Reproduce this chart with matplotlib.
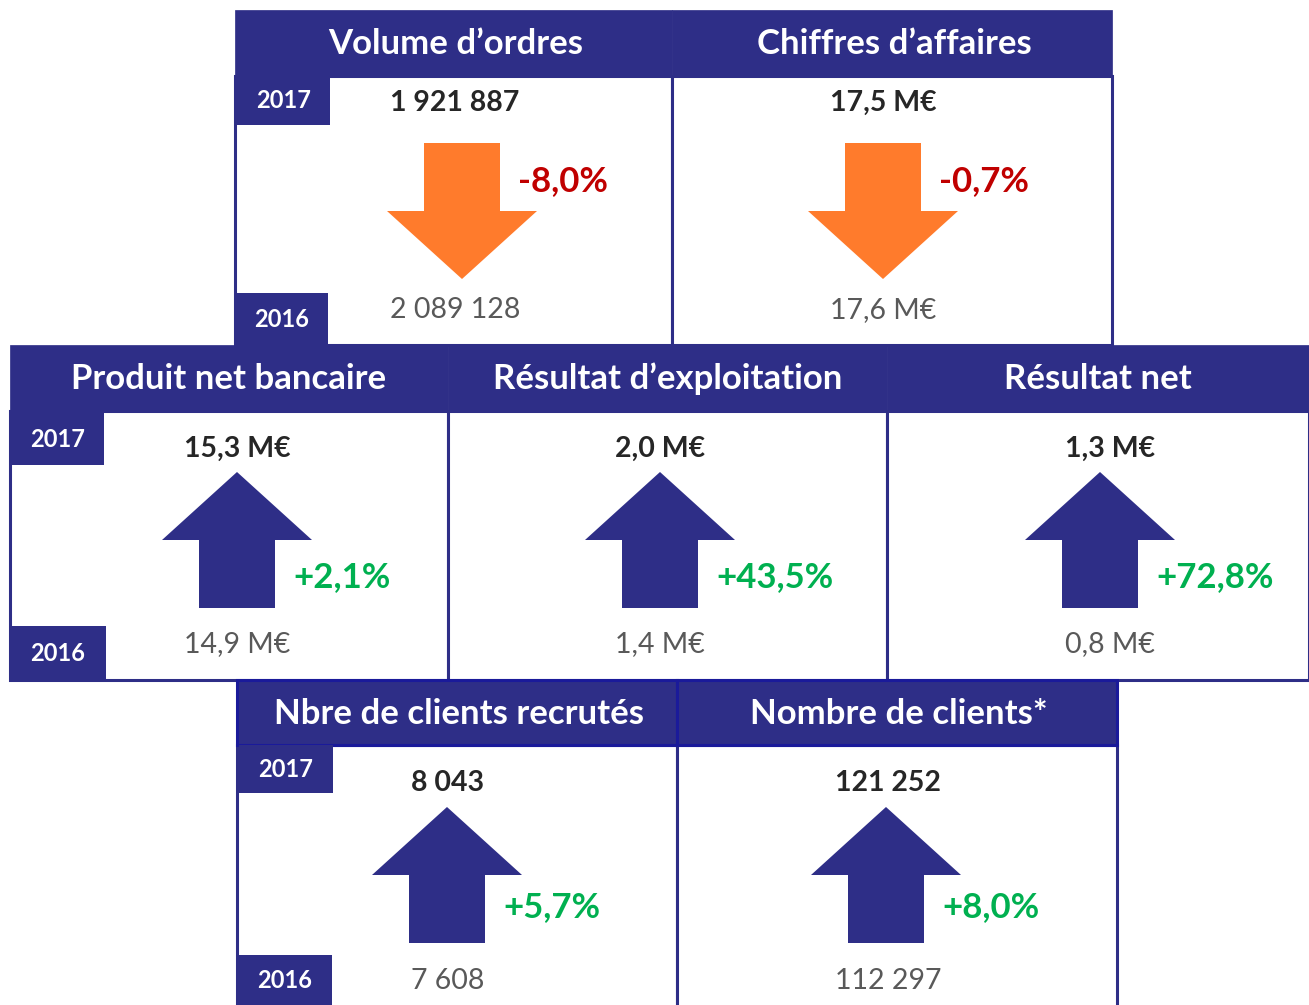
import matplotlib.pyplot as plt
from matplotlib.patches import Rectangle, Polygon

plt.rcParams['font.family'] = ['Lato', 'DejaVu Sans']

# Données
titres = ["Volume d’ordres", "Chiffres d’affaires",
          "Produit net bancaire", "Résultat d’exploitation", "Résultat net",
          "Nbre de clients recrutés", "Nombre de clients*"]
valeurs_2017 = ["1 921 887", "17,5 M€", "15,3 M€", "2,0 M€", "1,3 M€", "8 043", "121 252"]
valeurs_2016 = ["2 089 128", "17,6 M€", "14,9 M€", "1,4 M€", "0,8 M€", "7 608", "112 297"]
variations = [-8.0, -0.7, 2.1, 43.5, 72.8, 5.7, 8.0]
annees = ["2017", "2016"]

# Mise en page (pixels)
panneaux_x = [(235, 672), (672, 1112), (10, 448), (448, 887), (887, 1309), (237, 677), (677, 1117)]
centres = [462, 883, 237, 660, 1100, 447, 886]        # centre des flèches
centres_txt = [455, 883, 237, 660, 1110, 448, 888]    # centre des valeurs
rang = [0, 0, 1, 1, 1, 2, 2]
# par rangée : haut bandeau, bas bandeau, bas corps, y valeur, haut flèche, y %, y ancienne valeur
rangees = [(10, 76, 345, 103, 143, 181, 310),
           (345, 411, 680, 449, 472, 577, 644),
           (680, 745, 1010, 783, 807, 907, 981)]
annee_boites = [((237, 76, 93, 49), (235, 293, 93, 52)),
                ((12, 413, 92, 52), (10, 626, 96, 54)),
                ((239, 745, 94, 48), (237, 955, 95, 50))]

NAVY = '#2E2E87'
ORANGE = '#FF7B2C'
ROUGE = '#C00000'
VERT = '#00B050'

fig = plt.figure(figsize=(13.09, 10.05), dpi=100)
ax = fig.add_axes([0, 0, 1, 1])
ax.set_xlim(0, 1309)
ax.set_ylim(1005, 0)
ax.axis('off')


def fleche(cx, haut, vers_le_haut, couleur):
    hw, sw, hh, sh = 75, 38, 68, 68
    if vers_le_haut:
        pts = [(cx, haut), (cx + hw, haut + hh), (cx + sw, haut + hh), (cx + sw, haut + hh + sh),
               (cx - sw, haut + hh + sh), (cx - sw, haut + hh), (cx - hw, haut + hh)]
    else:
        pts = [(cx - sw, haut), (cx + sw, haut), (cx + sw, haut + sh), (cx + hw, haut + sh),
               (cx, haut + sh + hh), (cx - hw, haut + sh), (cx - sw, haut + sh)]
    ax.add_patch(Polygon(pts, closed=True, facecolor=couleur, edgecolor='none'))


for i, titre in enumerate(titres):
    x0, x1 = panneaux_x[i]
    r = rang[i]
    yh0, yh1, yb, yv, yf, yp, ya = rangees[r]
    cx = centres[i]
    # corps et bordure
    ax.add_patch(Rectangle((x0, yh1), x1 - x0, yb - yh1, facecolor='white',
                           edgecolor=NAVY, lw=2.2))
    # bandeau
    ax.add_patch(Rectangle((x0, yh0), x1 - x0, yh1 - yh0, facecolor=NAVY,
                           edgecolor='#1A1A9A' if r == 2 else NAVY, lw=2.2 if r == 2 else 0.5))
    ax.text((x0 + x1) / 2 + (2 if r != 1 else 0), (yh0 + yh1) / 2 + 1, titre, color='white',
            fontsize=25, fontweight='bold', ha='center', va='center')

    ax.text(centres_txt[i], yv, valeurs_2017[i], color='#262626', fontsize=20.5,
            fontweight='bold', ha='center', va='center')
    ax.text(centres_txt[i], ya, valeurs_2016[i], color='#595959', fontsize=20.5,
            ha='center', va='center')
    hausse = variations[i] > 0
    fleche(cx, yf, hausse, NAVY if hausse else ORANGE)
    txt = f"{variations[i]:+.1f}%".replace('.', ',')
    ax.text(cx + 56, yp, txt, color=VERT if hausse else ROUGE, fontsize=25,
            fontweight='bold', ha='left', va='center')

# étiquettes d'année
for r in range(3):
    for (bx, by, bw, bh), an in zip(annee_boites[r], annees):
        ax.add_patch(Rectangle((bx, by), bw, bh, facecolor=NAVY, edgecolor='none'))
        ax.text(bx + bw / 2, by + bh / 2, an, color='white', fontsize=17,
                fontweight='bold', ha='center', va='center')

fig.savefig('out.png', dpi=100, facecolor='white')
